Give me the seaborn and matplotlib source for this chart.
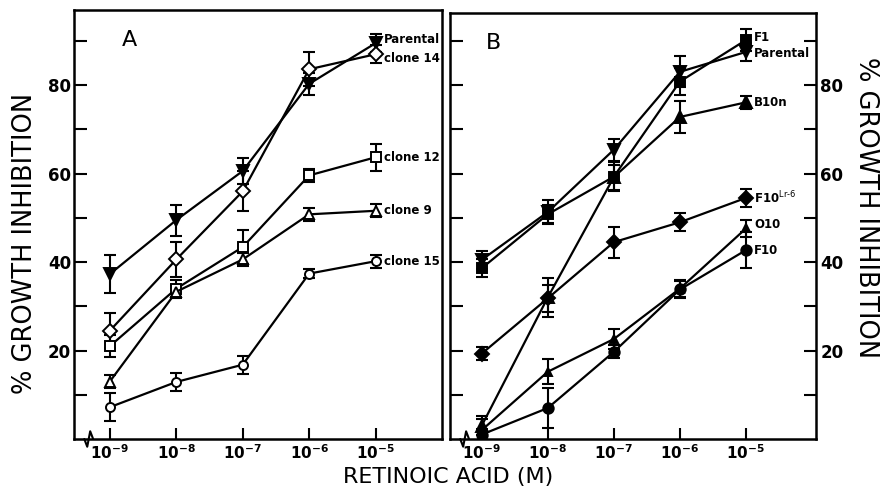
import numpy as np
import pandas as pd
import matplotlib.pyplot as plt
from matplotlib.ticker import FixedLocator, NullLocator
import seaborn as sns

# retinoic acid concentrations (M)
conc = [1e-9, 1e-8, 1e-7, 1e-6, 1e-5]
conc_labels = ['$10^{-9}$', '$10^{-8}$', '$10^{-7}$', '$10^{-6}$', '$10^{-5}$']

# panel A: % growth inhibition and error
a_parental = [37.3, 49.5, 60.6, 80.3, 89.5]
a_parental_err = [4.2, 3.5, 3.0, 2.5, 2.0]
a_clone14 = [24.5, 40.6, 56.0, 83.6, 87.0]
a_clone14_err = [4.0, 4.0, 4.5, 3.8, 2.0]
a_clone12 = [21.0, 34.0, 43.4, 59.6, 63.7]
a_clone12_err = [2.5, 2.0, 3.8, 1.5, 3.0]
a_clone9 = [13.0, 33.3, 40.6, 50.8, 51.6]
a_clone9_err = [1.5, 1.5, 1.5, 1.5, 1.5]
a_clone15 = [7.2, 12.9, 16.8, 37.4, 40.2]
a_clone15_err = [3.2, 2.0, 2.0, 1.0, 1.5]

# panel B
b_f1 = [38.6, 50.8, 59.3, 80.8, 90.2]
b_f1_err = [2.0, 2.0, 3.3, 3.0, 2.5]
b_parental = [40.5, 51.3, 65.4, 83.0, 87.5]
b_parental_err = [2.0, 2.8, 2.5, 3.5, 2.0]
b_b10n = [3.0, 32.0, 59.2, 72.8, 76.1]
b_b10n_err = [2.2, 4.5, 2.8, 3.6, 1.5]
b_f10lr6 = [19.3, 31.8, 44.5, 49.0, 54.5]
b_f10lr6_err = [1.5, 3.0, 3.5, 2.0, 2.0]
b_o10 = [2.0, 15.2, 22.6, 34.0, 47.6]
b_o10_err = [2.5, 2.8, 2.2, 2.0, 2.0]
b_f10 = [1.0, 7.0, 19.7, 33.8, 42.7]
b_f10_err = [1.2, 4.5, 1.5, 2.0, 4.0]

panel_a = [
    ('Parental', a_parental, a_parental_err, 'v', 'black', 8),
    ('clone 14', a_clone14, a_clone14_err, 'D', 'white', 7),
    ('clone 12', a_clone12, a_clone12_err, 's', 'white', 6.5),
    ('clone 9', a_clone9, a_clone9_err, '^', 'white', 7),
    ('clone 15', a_clone15, a_clone15_err, 'o', 'white', 6.5),
]
panel_b = [
    ('F1', b_f1, b_f1_err, 's', 'black', 7),
    ('Parental', b_parental, b_parental_err, 'v', 'black', 8),
    ('B10n', b_b10n, b_b10n_err, '^', 'black', 8),
    (r'F10$^{\mathrm{Lr\text{-}6}}$', b_f10lr6, b_f10lr6_err, 'D', 'black', 7),
    ('O10', b_o10, b_o10_err, '^', 'black', 5.5),
    ('F10', b_f10, b_f10_err, 'o', 'black', 7.5),
]

# label offsets (in points) for end-of-line labels
a_label_dy = [3, -3, 0, 0, 0]
b_label_dy = [2, -1, 0, 0, 3, 0]

sns.set_style('ticks')
plt.rcParams['font.family'] = ['DejaVu Sans']
plt.rcParams['mathtext.default'] = 'regular'
for key in ['text.color', 'axes.labelcolor', 'xtick.color', 'ytick.color',
            'axes.edgecolor']:
    plt.rcParams[key] = 'black'

fig = plt.figure(figsize=(8.95, 4.95), dpi=100)
ax_a = fig.add_axes([74 / 895, 56 / 495, 368 / 895, 429 / 495])
ax_b = fig.add_axes([450 / 895, 56 / 495, 366 / 895, 426 / 495])


def draw_panel(ax, series, label_dy, xlim, ytop):
    for (name, vals, err, mk, face, ms), dy in zip(series, label_dy):
        ax.errorbar(conc, vals, yerr=err, fmt='none', ecolor='black',
                    elinewidth=1.5, capsize=4, capthick=1.5, zorder=2)
        sns.lineplot(x=conc, y=vals, ax=ax, color='black', lw=1.6,
                     marker=mk, markersize=ms, markerfacecolor=face,
                     markeredgecolor='black', markeredgewidth=1.4, zorder=3)
        ax.annotate(name, (conc[-1], vals[-1]), xytext=(6, dy),
                    textcoords='offset points', va='center', ha='left',
                    fontsize=8.5, fontweight='bold')
    ax.set_xscale('log')
    ax.set_xlim(*xlim)
    ax.set_ylim(0, ytop)
    ax.xaxis.set_major_locator(FixedLocator(conc))
    ax.xaxis.set_minor_locator(NullLocator())
    ax.set_xticklabels(conc_labels, fontsize=11, fontweight='bold')
    ax.set_xlabel('')
    ax.set_ylabel('')
    for s in ax.spines.values():
        s.set_linewidth(1.8)
        s.set_visible(True)
    ax.tick_params(axis='x', direction='in', length=8, width=1.5, pad=3)
    # broken axis mark
    ax.plot([0.028, 0.036, 0.044, 0.052], [0, -0.018, 0.018, 0],
            transform=ax.transAxes, clip_on=False, color='black', lw=1.5)


draw_panel(ax_a, panel_a, a_label_dy, (10 ** -9.54, 10 ** -4.0), 97)
draw_panel(ax_b, panel_b, b_label_dy, (10 ** -9.48, 10 ** -3.94), 96.3)

yt = [10, 20, 30, 40, 50, 60, 70, 80, 90]
ytl = ['', '20', '', '40', '', '60', '', '80', '']
ax_a.set_yticks(yt)
ax_a.set_yticklabels(ytl, fontsize=12, fontweight='bold')
ax_a.tick_params(axis='y', direction='in', length=9, width=1.5, pad=2,
                 left=True, right=False)

ax_b.set_yticks(yt)
ax_b.set_yticklabels(ytl, fontsize=12, fontweight='bold')
ax_b.tick_params(axis='y', direction='in', length=9, width=1.5, pad=3,
                 left=True, right=True, labelleft=False, labelright=True)

ax_a.text(0.15, 0.93, 'A', transform=ax_a.transAxes, fontsize=16,
          ha='center', va='center')
ax_b.text(0.12, 0.93, 'B', transform=ax_b.transAxes, fontsize=16,
          ha='center', va='center')

fig.text(448 / 895, 1 - 477 / 495, 'RETINOIC ACID (M)', fontsize=16,
         ha='center', va='center')
fig.text(25 / 895, 1 - 243 / 495, '% GROWTH INHIBITION', fontsize=18.5,
         rotation=90, ha='center', va='center')
fig.text(866 / 895, 1 - 208 / 495, '% GROWTH INHIBITION', fontsize=18.5,
         rotation=-90, ha='center', va='center')

fig.savefig('out.png', dpi=100)
